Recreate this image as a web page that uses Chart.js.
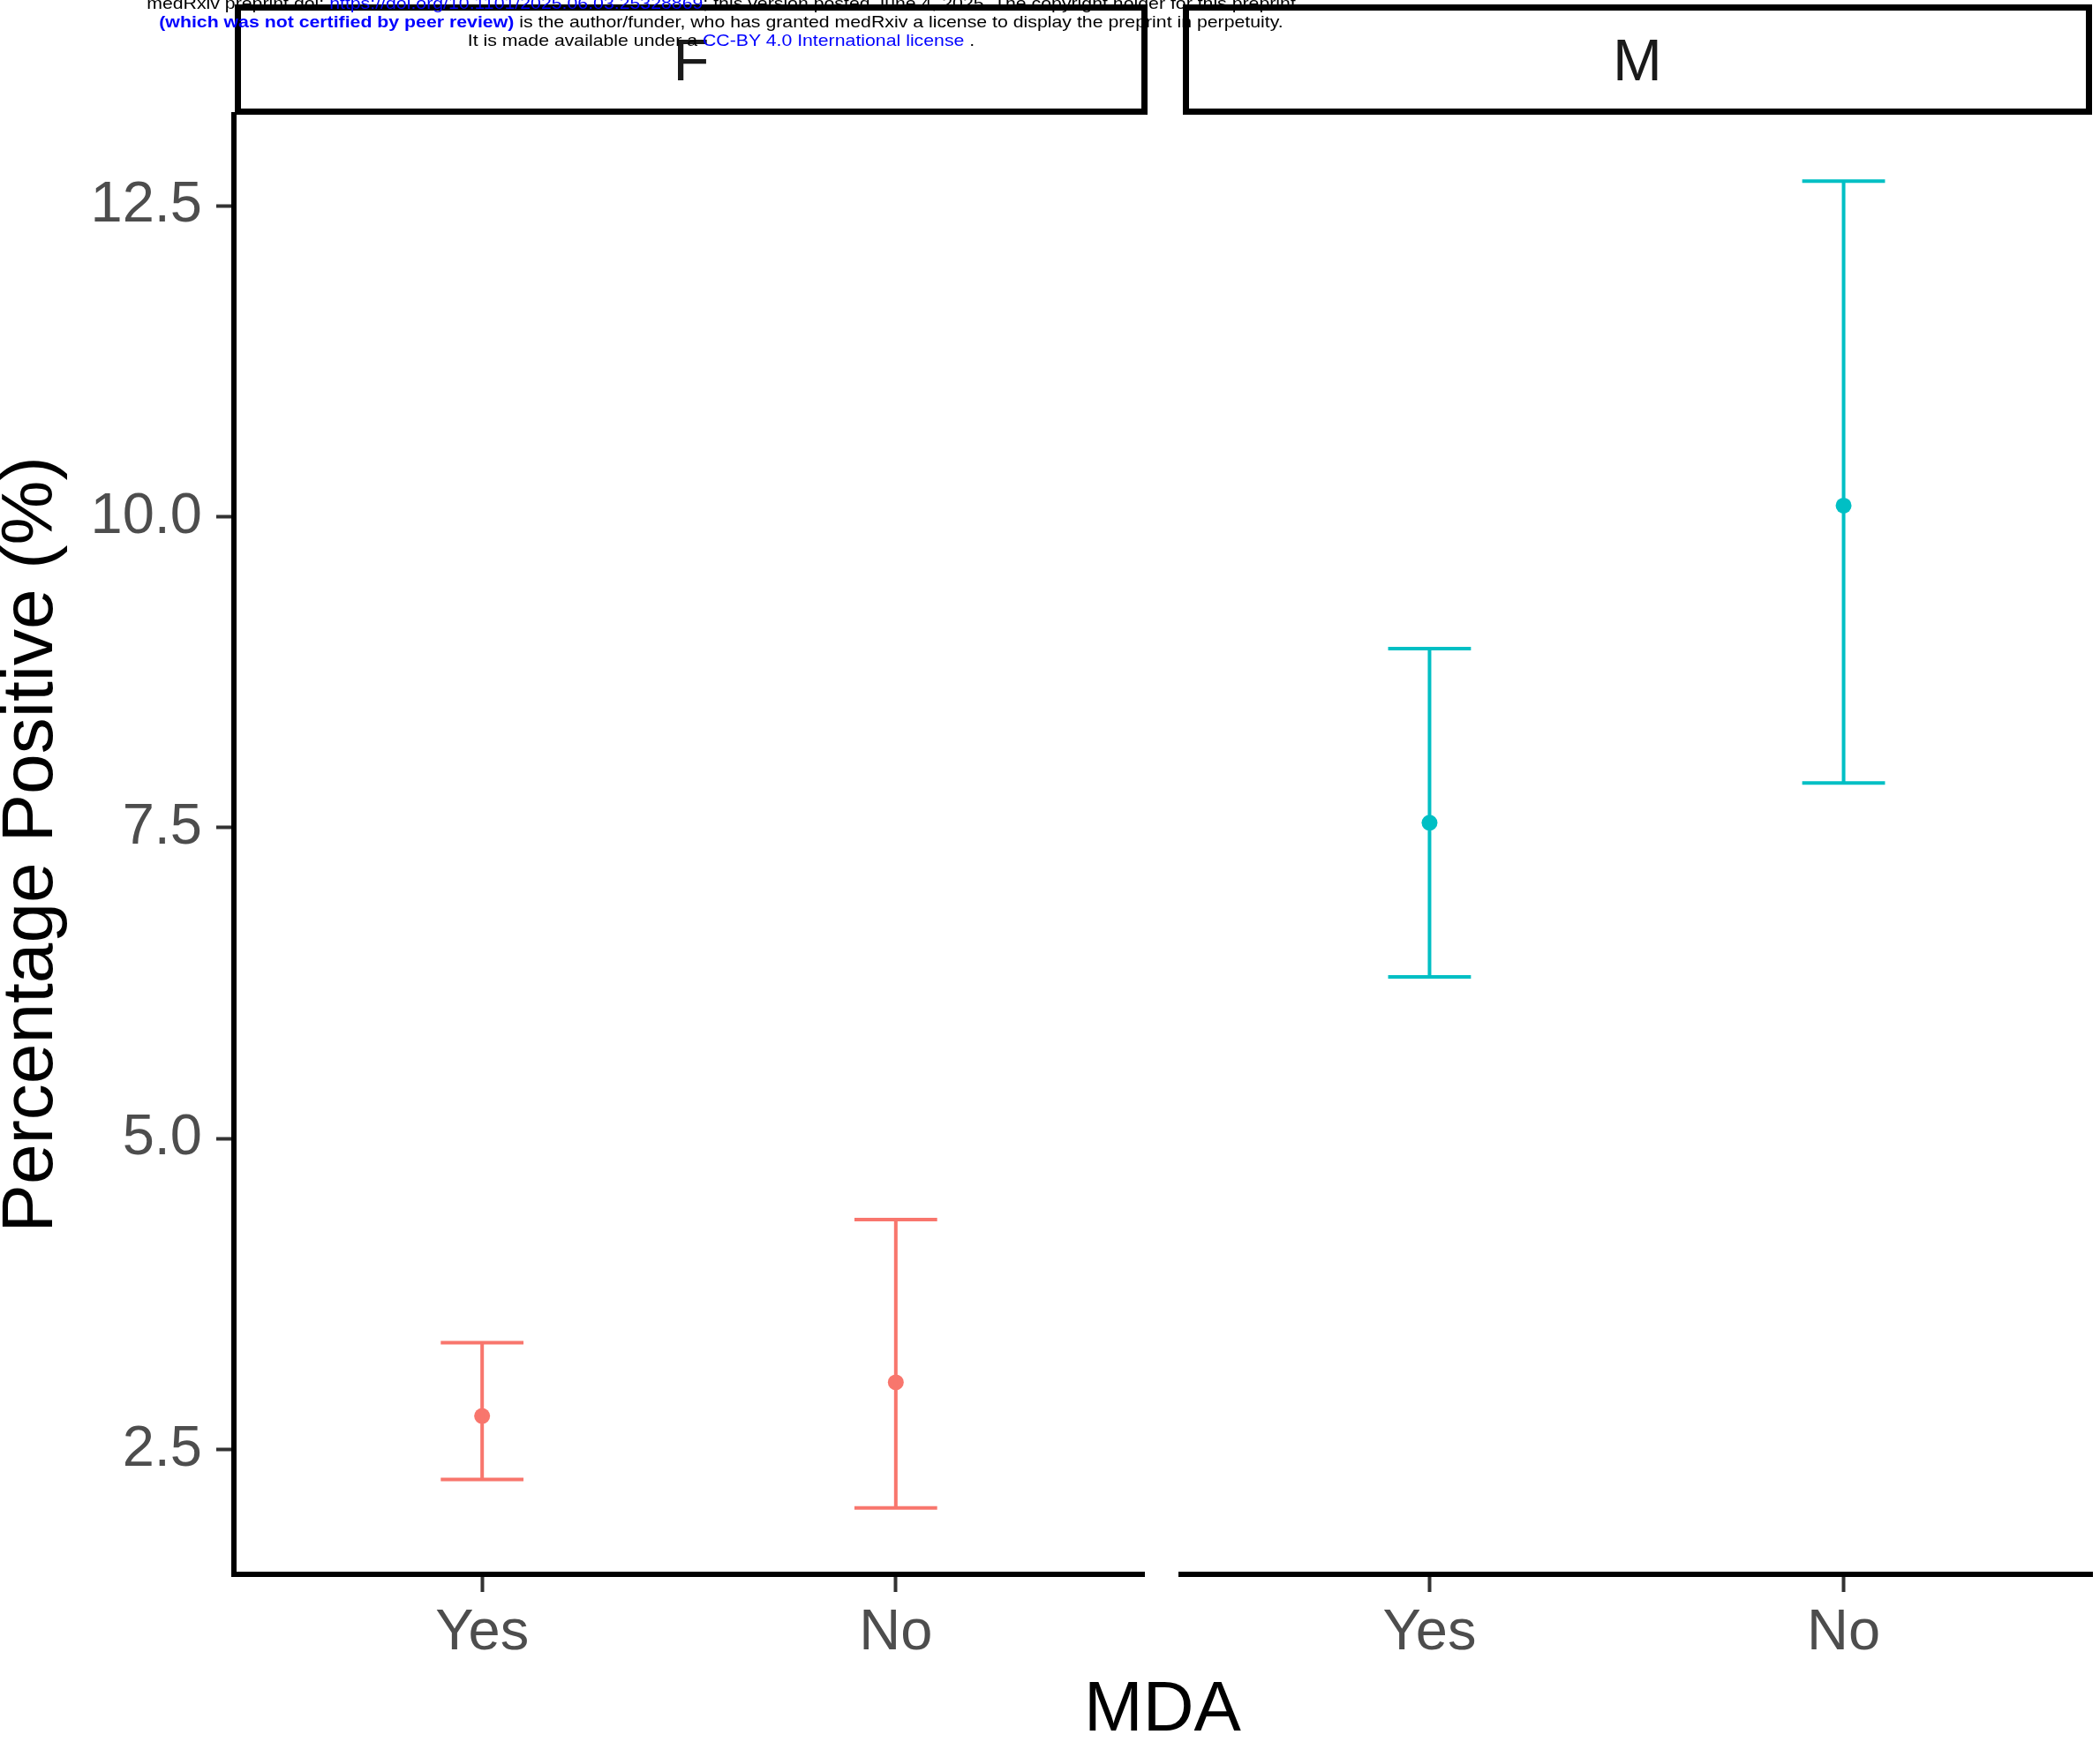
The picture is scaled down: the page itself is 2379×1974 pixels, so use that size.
<!DOCTYPE html>
<html>
<head>
<meta charset="utf-8">
<script src="https://cdn.jsdelivr.net/npm/chart.js@4.4.1/dist/chart.umd.min.js"></script>
<style>
html,body{margin:0;padding:0;background:#fff;}
body{width:2379px;height:1974px;position:relative;overflow:hidden;font-family:'Liberation Sans',Arial,Helvetica,sans-serif;}
canvas{position:absolute;top:0;}
#chartF{left:0;}
#chartM{left:1310px;}
.strip{position:absolute;top:5px;height:111px;border:7px solid #000;display:flex;align-items:center;justify-content:center;font-size:67px;line-height:1;color:#1a1a1a;background:#fff;}
#stripF{left:266px;width:1020px;}
#stripM{left:1340px;width:1016px;}
#xtitle{position:absolute;left:817px;width:1000px;top:1894px;text-align:center;font-size:80px;line-height:1;color:#000;}
#wm{position:absolute;left:0;width:1634px;top:-7px;text-align:center;font-size:19px;line-height:21px;color:#000;z-index:5;white-space:nowrap;transform:scaleX(1.12);transform-origin:817px 0;}
#wm .lnk{color:#0000ff;}
#wm .bold{font-weight:bold;}
</style>
</head>
<body>
<canvas id="chartF" width="1310" height="1974"></canvas>
<canvas id="chartM" width="1069" height="1974"></canvas>
<div class="strip" id="stripF"></div>
<div class="strip" id="stripM"></div>
<div id="xtitle"></div>
<div id="wm">
<div>medRxiv preprint doi: <span class="lnk">https://doi.org/10.1101/2025.06.03.25328869</span>; this version posted June 4, 2025. The copyright holder for this preprint</div>
<div><span class="lnk bold">(which was not certified by peer review)</span> is the author/funder, who has granted medRxiv a license to display the preprint in perpetuity.</div>
<div>It is made available under a <span class="lnk">CC-BY 4.0 International license</span> .</div>
</div>
<script>
// ---- data ----
const sexPanels = ["F", "M"];
const mdaCategories = ["Yes", "No"];
const femaleEstimate = [2.77, 3.04];
const femaleLower = [2.26, 2.03];
const femaleUpper = [3.36, 4.35];
const maleEstimate = [7.54, 10.09];
const maleLower = [6.30, 7.86];
const maleUpper = [8.94, 12.70];
const yTickValues = [2.5, 5.0, 7.5, 10.0, 12.5];
const yTickLabels = ["2.5", "5.0", "7.5", "10.0", "12.5"];
const xAxisTitle = "MDA";
const yAxisTitle = "Percentage Positive (%)";

// ---- styles ----
const panelColors = {F: "#F8766D", M: "#00BFC4"};
const capHalfWidth = 0.1;
const FONT = "'Liberation Sans', Arial, Helvetica, sans-serif";
Chart.defaults.font.family = FONT;

document.getElementById('stripF').textContent = sexPanels[0];
document.getElementById('stripM').textContent = sexPanels[1];
document.getElementById('xtitle').textContent = xAxisTitle;

// shared y range (ggplot-like 5% expansion)
const allLow = Math.min(...femaleLower, ...maleLower);
const allHigh = Math.max(...femaleUpper, ...maleUpper);
const expand = 0.05 * (allHigh - allLow);
const yMin = allLow - expand;
const yMax = allHigh + expand;

function buildDatasets(est, lo, hi, color) {
  const ds = [];
  est.forEach((e, i) => {
    const x = i + 1;
    const seg = (pts) => ({
      data: pts, showLine: true, borderColor: color, borderWidth: 4,
      pointRadius: 0, pointHoverRadius: 0, borderCapStyle: 'butt', fill: false
    });
    ds.push(seg([{x: x, y: lo[i]}, {x: x, y: hi[i]}]));
    ds.push(seg([{x: x - capHalfWidth, y: hi[i]}, {x: x + capHalfWidth, y: hi[i]}]));
    ds.push(seg([{x: x - capHalfWidth, y: lo[i]}, {x: x + capHalfWidth, y: lo[i]}]));
  });
  ds.push({
    data: est.map((e, i) => ({x: i + 1, y: e})),
    showLine: false, pointRadius: 9, pointHoverRadius: 9,
    backgroundColor: color, borderWidth: 0, pointStyle: 'circle'
  });
  return ds;
}

function makePanel(canvasId, est, lo, hi, color, showY, padLeft, padRight) {
  const yScale = {
    type: 'linear', display: showY, min: yMin, max: yMax,
    afterBuildTicks: (s) => { s.ticks = yTickValues.map(v => ({value: v})); },
    ticks: {
      callback: (v, idx) => yTickLabels[idx],
      font: {size: 65}, color: '#4D4D4D', padding: 16
    },
    grid: {drawOnChartArea: false, drawTicks: true, tickLength: 20, tickWidth: 4, tickColor: '#333333'},
    border: {display: true, color: '#000000', width: 6},
    title: {display: true, text: yAxisTitle, color: '#000000', font: {size: 82, lineHeight: 0.88}, padding: 0}
  };
  if (showY) yScale.afterFit = (s) => { s.width = 265; };
  return new Chart(document.getElementById(canvasId), {
    type: 'scatter',
    data: {datasets: buildDatasets(est, lo, hi, color)},
    options: {
      responsive: false, animation: false, devicePixelRatio: 1,
      layout: {padding: {top: 130, left: padLeft, right: padRight, bottom: 0}},
      plugins: {legend: {display: false}, tooltip: {enabled: false}},
      scales: {
        x: {
          type: 'linear', min: 0.4, max: 2.6,
          afterBuildTicks: (s) => { s.ticks = mdaCategories.map((c, i) => ({value: i + 1})); },
          afterFit: (s) => { s.height = 190; },
          ticks: {
            callback: (v, idx) => mdaCategories[idx],
            font: {size: 65}, color: '#4D4D4D', padding: 8, maxRotation: 0, autoSkip: false
          },
          grid: {drawOnChartArea: false, drawTicks: true, tickLength: 20, tickWidth: 4, tickColor: '#333333'},
          border: {display: true, color: '#000000', width: 6}
        },
        y: yScale
      }
    }
  });
}

makePanel('chartF', femaleEstimate, femaleLower, femaleUpper, panelColors.F, true, 0, 14);
makePanel('chartM', maleEstimate, maleLower, maleUpper, panelColors.M, false, 28, 9);
</script>
</body>
</html>
